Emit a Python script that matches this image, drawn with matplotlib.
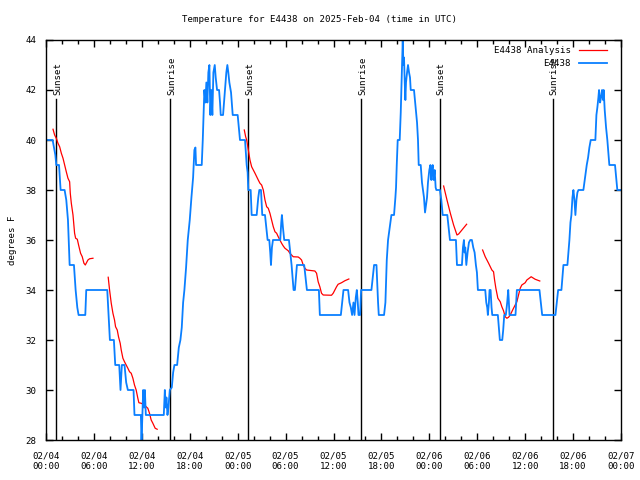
import datetime as dt
import numpy as np
import matplotlib
matplotlib.use("Agg")
import matplotlib.pyplot as plt
from matplotlib.ticker import MultipleLocator, FuncFormatter

# hours after 2025-02-04 00:00 UTC
obs_hours = [
    0.00, 0.83, 1.00, 1.17, 1.29, 1.63, 1.83, 2.33, 2.54, 2.75, 2.96, 3.50, 3.71, 3.92, 4.08,
    4.92, 5.04, 7.67, 7.75, 7.88, 8.00, 8.50, 8.67, 9.17, 9.33, 9.50, 9.83, 10.04, 10.25, 10.96,
    11.08, 11.88, 11.96, 12.04, 12.17, 12.29, 12.38, 12.50, 14.75, 14.88, 15.00, 15.08, 15.21,
    15.33, 15.50, 15.75, 15.92, 16.08, 16.42, 16.63, 16.83, 17.00, 17.17, 17.33, 17.54, 17.75,
    18.00, 18.21, 18.42, 18.58, 18.71, 18.79, 19.50, 19.63, 19.75, 19.83, 19.96, 20.08, 20.21,
    20.33, 20.46, 20.58, 20.71, 20.83, 20.96, 21.13, 21.25, 21.42, 21.67, 21.79, 21.88, 22.17,
    22.29, 22.42, 22.58, 22.71, 22.83, 22.96, 23.17, 23.38, 24.00, 24.17, 24.29, 24.92, 25.13,
    25.25, 25.33, 25.63, 25.75, 26.38, 26.58, 26.71, 26.92, 27.08, 27.42, 27.58, 27.75, 27.96,
    28.08, 28.17, 28.29, 28.42, 29.33, 29.46, 29.54, 29.67, 29.83, 30.42, 30.58, 30.75, 30.88,
    31.00, 31.17, 31.29, 31.42, 32.33, 32.50, 32.67, 34.17, 34.29, 36.92, 37.08, 37.25, 37.83,
    38.00, 38.17, 38.33, 38.50, 38.63, 38.79, 38.92, 39.04, 39.13, 39.33, 39.46, 40.75, 40.92,
    41.08, 41.38, 41.58, 41.67, 42.33, 42.50, 42.67, 42.83, 43.04, 43.25, 43.58, 43.75, 43.83,
    43.92, 44.04, 44.29, 44.42, 44.50, 44.58, 44.67, 44.75, 44.83, 44.92, 45.00, 45.08, 45.21,
    45.33, 45.46, 45.58, 45.67, 46.08, 46.29, 46.46, 46.58, 46.67, 46.92, 47.08, 47.21, 47.33,
    47.46, 47.71, 47.83, 48.00, 48.13, 48.25, 48.33, 48.42, 48.54, 48.67, 48.79, 48.88, 49.33,
    49.50, 49.67, 50.25, 50.42, 50.58, 51.33, 51.46, 52.08, 52.21, 52.33, 52.42, 52.50, 52.63,
    52.79, 52.96, 53.13, 53.33, 53.50, 53.67, 53.83, 53.96, 54.08, 55.00, 55.13, 55.25, 55.33,
    55.46, 55.54, 55.67, 55.79, 55.88, 56.58, 56.71, 56.83, 57.13, 57.25, 57.38, 57.58, 57.75,
    57.88, 57.96, 58.04, 58.79, 58.88, 58.96, 61.79, 61.96, 62.13, 63.79, 63.96, 64.13, 64.54,
    64.67, 64.79, 65.29, 65.42, 65.54, 65.67, 65.79, 65.92, 66.04, 66.17, 66.29, 66.42, 66.54,
    66.67, 67.29, 67.46, 67.58, 67.71, 67.88, 68.04, 68.21, 68.79, 68.92, 69.04, 69.17, 69.25,
    69.38, 69.50, 69.63, 69.75, 69.83, 69.96, 70.13, 70.29, 70.46, 70.54, 71.25, 71.42, 71.54,
    72.00,
]
obs_temp = [
    40.0, 40.0, 39.7, 39.4, 39.0, 39.0, 38.0, 38.0, 37.6, 36.8, 35.0, 35.0, 34.0, 33.3, 33.0,
    33.0, 34.0, 34.0, 33.5, 32.7, 32.0, 32.0, 31.0, 31.0, 30.0, 31.0, 31.0, 30.3, 30.0, 30.0,
    29.0, 29.0, 28.0, 28.7, 30.0, 29.3, 30.0, 29.0, 29.0, 30.0, 29.3, 29.7, 29.0,
    29.3, 30.0, 30.1, 30.7, 31.0, 31.0, 31.7, 32.0, 32.5, 33.5, 34.0, 34.9, 36.0,
    36.8, 37.7, 38.5, 39.6, 39.7, 39.0, 39.0, 40.0, 41.2, 42.0, 41.5, 42.3, 41.5,
    42.7, 43.0, 41.0, 42.0, 41.0, 42.7, 43.0, 42.5, 42.0, 42.0, 41.5, 41.0, 41.0,
    41.5, 42.0, 42.7, 43.0, 42.7, 42.3, 41.9, 41.0, 41.0, 40.4, 40.0, 40.0, 39.0,
    38.7, 38.0, 38.0, 37.0, 37.0, 37.7, 38.0, 38.0, 37.0, 37.0, 36.5, 36.0, 36.0,
    35.5, 35.0, 35.7, 36.0, 36.0, 36.7, 37.0, 36.5, 36.0, 36.0, 35.5, 35.0, 34.5,
    34.0, 34.0, 34.5, 35.0, 35.0, 34.5, 34.0, 34.0, 33.0, 33.0, 33.5, 34.0, 34.0,
    33.5, 33.3, 33.0, 33.5, 33.0, 33.7, 34.0, 33.5, 33.0, 33.0, 34.0, 34.0, 34.5,
    35.0, 35.0, 33.5, 33.0, 33.0, 33.5, 35.2, 36.0, 36.5, 37.0, 37.0, 37.7, 38.1,
    39.0, 40.0, 40.0, 41.1, 42.0, 42.9, 44.0, 43.0, 43.3, 42.3, 41.6, 42.3, 42.7,
    43.0, 42.7, 42.5, 42.0, 42.0, 41.3, 40.7, 40.0, 39.0, 39.0, 38.3, 38.0, 37.7,
    37.1, 37.7, 38.3, 38.8, 39.0, 38.4, 38.8, 39.0, 38.4, 38.8, 38.1, 38.0, 38.0,
    37.6, 37.0, 37.0, 36.5, 36.0, 36.0, 35.0, 35.0, 35.7, 36.0, 35.5, 35.7, 35.0,
    35.5, 35.9, 36.0, 36.0, 35.7, 35.5, 35.0, 34.7, 34.0, 34.0, 33.5, 33.3, 33.0,
    33.5, 34.0, 34.0, 33.3, 33.0, 33.0, 32.5, 32.0, 32.0, 32.4, 33.0, 33.0, 33.5,
    34.0, 33.5, 33.0, 33.0, 33.5, 34.0, 34.0, 33.5, 33.0, 33.0, 33.5, 34.0, 34.0,
    34.5, 35.0, 35.0, 35.5, 36.0, 36.7, 37.0, 37.7, 38.0, 37.6, 37.0, 37.6, 37.9,
    38.0, 38.0, 38.4, 38.7, 39.0, 39.3, 39.7, 40.0, 40.0, 41.0, 41.3, 41.7, 42.0,
    41.5, 41.7, 42.0, 41.6, 42.0, 41.2, 40.5, 40.0, 39.3, 39.0, 39.0, 38.4, 38.0,
    38.0,
]

# analysis series, NaN marks the gaps
ana_hours = [
    0.88, 1.08, 1.29, 1.50, 1.71, 1.92, 2.13, 2.33, 2.54, 2.75, 2.96, 3.04, 3.17, 3.38, 3.58,
    3.71, 3.92, 4.08, 4.33, 4.54, 4.75, 4.92, 5.04, 5.25, 5.46, 5.88, np.nan,
    7.79, 7.96, 8.17, 8.38, 8.58, 8.71, 8.92, 9.08, 9.29, 9.42, 9.63, 9.83, 10.04, 10.25, 10.46,
    10.67, 10.88, 11.08, 11.29, 11.50, 11.63, 11.92, 12.33, 12.54, 12.75, 12.96, 13.17, 13.38,
    13.67, 13.92, np.nan,
    24.83, 25.00, 25.13, 25.33, 25.54, 25.75, 25.96, 26.17, 26.38, 26.58, 26.79, 27.00, 27.21,
    27.42, 27.63, 27.83, 28.04, 28.25, 28.46, 28.67, 28.88, 29.08, 29.29, 29.50, 29.71, 29.92,
    30.33, 30.54, 30.75, 30.96, 31.58, 31.79, 32.00, 32.21, 32.42, 32.63, 33.67, 33.88, 34.08,
    34.29, 34.50, 34.71, 35.75, 35.96, 36.17, 36.38, 36.58, 37.00, 37.42, 37.92, np.nan,
    49.79, 50.21, 50.63, 51.04, 51.46, 51.67, 52.08, 52.67, np.nan,
    54.67, 55.00, 55.42, 55.83, 56.04, 56.17, 56.33, 56.58, 56.88, 57.08, 57.29, 57.50, 57.71,
    57.92, 58.13, 58.54, 58.96, 59.17, 59.38, 59.58, 60.00, 60.21, 60.75, 61.25, 61.83,
]
ana_temp = [
    40.43, 40.20, 40.07, 39.87, 39.73, 39.47, 39.27, 39.00, 38.73, 38.47, 38.33, 37.87, 37.47,
    37.00, 36.27, 36.07, 36.03, 35.80, 35.47, 35.33, 35.07, 35.00, 35.07, 35.20, 35.25, 35.27,
    np.nan,
    34.51, 34.00, 33.47, 33.07, 32.80, 32.53, 32.40, 32.13, 31.87, 31.60, 31.27, 31.13, 31.00,
    30.87, 30.73, 30.67, 30.47, 30.20, 30.00, 29.67, 29.49, 29.47, 29.40, 29.33, 29.27, 29.07,
    28.80, 28.67, 28.47, 28.43, np.nan,
    40.40, 40.13, 40.00, 39.60, 39.20, 38.93, 38.80, 38.67, 38.53, 38.40, 38.27, 38.20, 38.00,
    37.60, 37.33, 37.27, 37.07, 36.80, 36.53, 36.33, 36.27, 36.13, 36.00, 35.87, 35.76, 35.67,
    35.57, 35.47, 35.40, 35.33, 35.32, 35.27, 35.20, 35.00, 34.87, 34.80, 34.76, 34.67, 34.33,
    34.13, 33.87, 33.80, 33.79, 33.87, 34.00, 34.13, 34.23, 34.29, 34.37, 34.44, np.nan,
    38.16, 37.60, 37.07, 36.60, 36.20, 36.24, 36.40, 36.63, np.nan,
    35.60, 35.33, 35.07, 34.80, 34.73, 34.40, 34.07, 33.67, 33.53, 33.33, 33.17, 32.93, 32.87,
    32.91, 33.00, 33.27, 33.53, 33.80, 34.07, 34.20, 34.29, 34.40, 34.53, 34.43, 34.36,
]

sun_hours = [1.3, 15.5, 25.3, 39.45, 49.3, 63.45]
sun_labels = ["Sunset", "Sunrise", "Sunset", "Sunrise", "Sunset", "Sunrise"]

start = dt.datetime(2025, 2, 4, 0, 0)
font = "DejaVu Sans Mono"
fs = 6.6

fig = plt.figure(figsize=(6.4, 4.8), dpi=100)
ax = fig.add_axes([46 / 640, 40 / 480, 575 / 640, 400 / 480])

for h, lab in zip(sun_hours, sun_labels):
    ax.plot([h, h], [28, 41.64], color="black", lw=1.0)
    ax.text(h + 0.2, 41.8, lab, rotation=90, ha="center", va="bottom",
            fontsize=fs, family=font)

ax.plot(ana_hours, ana_temp, color="#ff0000", lw=0.9, label="E4438 Analysis")
ax.plot(obs_hours, obs_temp, color="#0a7fff", lw=1.3, label="E4438")

ax.set_xlim(0, 72)
ax.set_ylim(28, 44)
ax.xaxis.set_major_locator(MultipleLocator(6))
ax.xaxis.set_minor_locator(MultipleLocator(2))
ax.yaxis.set_major_locator(MultipleLocator(2))
ax.xaxis.set_major_formatter(FuncFormatter(
    lambda v, p: (start + dt.timedelta(hours=v)).strftime("%m/%d\n%H:%M")))
ax.tick_params(which="both", direction="in", top=True, right=True,
               labelsize=fs, width=1.0, color="black")
ax.tick_params(which="major", length=5)
ax.tick_params(axis="x", which="major", pad=8)
ax.tick_params(axis="y", which="major", pad=7)
ax.tick_params(which="minor", length=3)
for lab in ax.get_xticklabels() + ax.get_yticklabels():
    lab.set_family(font)
for s in ax.spines.values():
    s.set_linewidth(1.0)

fig.text(0.5, 1 - 20 / 480, "Temperature for E4438 on 2025-Feb-04 (time in UTC)",
         ha="center", va="center", fontsize=fs, family=font)
ax.set_ylabel("degrees F", fontsize=fs, family=font, labelpad=6)

leg = ax.legend(loc="upper right", bbox_to_anchor=(1 - 9 / 575, 1 - 1 / 400),
                frameon=False, markerfirst=False,
                prop={"family": font, "size": fs}, handlelength=3.0,
                handletextpad=0.9, labelspacing=0.4, borderaxespad=0.2)
for t in leg.get_texts():
    t.set_ha("right")

fig.savefig("out.png", dpi=100)
